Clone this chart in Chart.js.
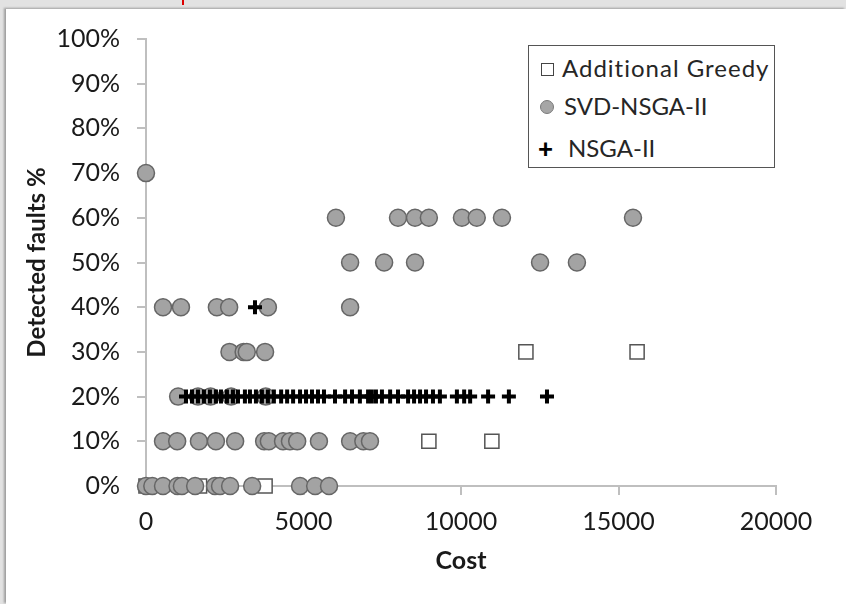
<!DOCTYPE html>
<html>
<head>
<meta charset="utf-8">
<script src="https://cdn.jsdelivr.net/npm/chart.js@4"></script>
<style>
  html, body { margin: 0; padding: 0; }
  body { width: 846px; height: 604px; background: #e2e2e2; position: relative; overflow: hidden; font-family: Lato, "Open Sans", sans-serif; }
  #panel { position: absolute; left: 6px; top: 9px; right: 0; bottom: 0; background: #fff; box-shadow: -2px -1px 2px rgba(0,0,0,0.3); }
  #mark { position: absolute; left: 182px; top: 0; width: 2px; height: 5px; background: #d00; }
  #chart { position: absolute; left: 0; top: 0; }
  #legend { position: absolute; left: 528px; top: 45px; width: 245px; height: 121px; border: 1.5px solid #555; background: #fff; color: #262626; font-size: 24px; }
  #legend .row { position: absolute; left: 0; white-space: nowrap; }
  #legend .txt { position: absolute; top: 0; line-height: 24px; }
  .sq { position: absolute; width: 11px; height: 11px; border: 1px solid #444; background: #fff; }
  .ci { position: absolute; width: 12px; height: 12px; border-radius: 50%; background: #a6a6a6; border: 1px solid #7a7a7a; }
  .pl { position: absolute; font-weight: 900; font-size: 26px; line-height: 22px; color: #000; }
</style>
</head>
<body>
<div id="panel"></div>
<div id="mark"></div>
<canvas id="chart" width="846" height="604"></canvas>
<div id="legend">
  <div class="row" style="top:10px"><span class="sq" style="left:12px;top:7px"></span><span class="txt" style="left:33px;letter-spacing:1px">Additional Greedy</span></div>
  <div class="row" style="top:48px"><span class="ci" style="left:11px;top:6px"></span><span class="txt" style="left:35px">SVD-NSGA-II</span></div>
  <div class="row" style="top:90px"><span class="pl" style="left:9px;top:1px">+</span><span class="txt" style="left:39px">NSGA-II</span></div>
</div>
<script>
// Data (cost, detected faults %)
const greedyCost = [0, 1700, 3780, 8980, 10980, 12060, 15590];
const greedyFaults = [0, 0, 0, 10, 10, 30, 30];

const svdCost = [
  0,
  6030, 8000, 8540, 8980, 10030, 10500, 11300, 15460,
  6480, 7560, 8540, 12510, 13680,
  540, 1110, 2250, 2640, 3870, 6480,
  2650, 3100, 3200, 3780,
  1020, 1650, 2050, 2700, 3800,
  540, 990, 1680, 2220, 2830, 3750, 3900, 4350, 4570, 4800, 5490, 6480, 6900, 7110,
  0, 200, 540, 1000, 1140, 1560, 2190, 2350, 2670, 3370, 4890, 5370, 5810
];
const svdFaults = [
  70,
  60, 60, 60, 60, 60, 60, 60, 60,
  50, 50, 50, 50, 50,
  40, 40, 40, 40, 40, 40,
  30, 30, 30, 30,
  20, 20, 20, 20, 20,
  10, 10, 10, 10, 10, 10, 10, 10, 10, 10, 10, 10, 10, 10,
  0, 0, 0, 0, 0, 0, 0, 0, 0, 0, 0, 0, 0
];

const nsgaCost = [
  3460,
  1270, 1460, 1650, 1840, 2030, 2220, 2380, 2570, 2760, 2920, 3140, 3300, 3490, 3680,
  3870, 4060, 4290, 4480, 4670, 4890, 5080, 5270, 5460, 5650, 6000, 6320, 6540, 6790,
  7050, 7170, 7300, 7490, 7750, 8000, 8320, 8510, 8700, 8890, 9110, 9330, 9870, 10100,
  10290, 10860, 11520, 12730
];
const nsgaFaults = [
  40,
  20, 20, 20, 20, 20, 20, 20, 20, 20, 20, 20, 20, 20, 20,
  20, 20, 20, 20, 20, 20, 20, 20, 20, 20, 20, 20, 20, 20,
  20, 20, 20, 20, 20, 20, 20, 20, 20, 20, 20, 20, 20, 20,
  20, 20, 20, 20
];

const xTicks = [0, 5000, 10000, 15000, 20000];

function toPoints(xs, ys) {
  return xs.map((x, i) => ({ x: x, y: ys[i] }));
}

const axisColor = '#bfbfbf';
const tickFont = { family: 'Lato', size: 25 };

const ctx = document.getElementById('chart').getContext('2d');
const chart = new Chart(ctx, {
  type: 'scatter',
  data: {
    datasets: [
      {
        label: 'NSGA-II',
        data: toPoints(nsgaCost, nsgaFaults),
        pointStyle: 'cross',
        pointRadius: 7,
        borderColor: '#000',
        borderWidth: 4,
        clip: false,
        order: 0
      },
      {
        label: 'SVD-NSGA-II',
        data: toPoints(svdCost, svdFaults),
        pointStyle: 'circle',
        pointRadius: 8.5,
        backgroundColor: '#a3a3a3',
        borderColor: '#666',
        borderWidth: 1.5,
        clip: false,
        order: 1
      },
      {
        label: 'Additional Greedy',
        data: toPoints(greedyCost, greedyFaults),
        pointStyle: 'rect',
        pointRadius: 10,
        backgroundColor: '#fff',
        borderColor: '#555',
        borderWidth: 1.5,
        clip: false,
        order: 2
      }
    ]
  },
  options: {
    responsive: false,
    animation: false,
    layout: { padding: { top: 39, right: 70, bottom: 0, left: 0 } },
    plugins: {
      legend: { display: false },
      tooltip: { enabled: false }
    },
    scales: {
      x: {
        type: 'linear',
        min: 0,
        max: 20000,
        afterBuildTicks: (scale) => { scale.ticks = xTicks.map(v => ({ value: v })); },
        afterFit: (scale) => { scale.height = 118; },
        border: { color: axisColor, width: 2 },
        grid: { drawOnChartArea: false, drawTicks: true, tickLength: 9, color: axisColor, lineWidth: 2 },
        ticks: { color: '#1a1a1a', font: tickFont, padding: 12, maxRotation: 0, callback: (v) => String(v) },
        title: { display: true, text: 'Cost', color: '#1a1a1a', font: { family: 'Lato', size: 25, weight: 'bold' }, padding: { top: 0, bottom: 28 } }
      },
      y: {
        min: 0,
        max: 100,
        afterFit: (scale) => { scale.width = 146; },
        border: { color: axisColor, width: 2 },
        grid: { drawOnChartArea: false, drawTicks: true, tickLength: 9, color: axisColor, lineWidth: 2 },
        ticks: { stepSize: 10, color: '#1a1a1a', font: tickFont, padding: 17, callback: (v) => v + '%' },
        title: { display: true, text: 'Detected faults %', color: '#1a1a1a', font: { family: 'Lato', size: 24, weight: 'bold' }, padding: { top: 23, bottom: 0 } }
      }
    }
  }
});
</script>
</body>
</html>
